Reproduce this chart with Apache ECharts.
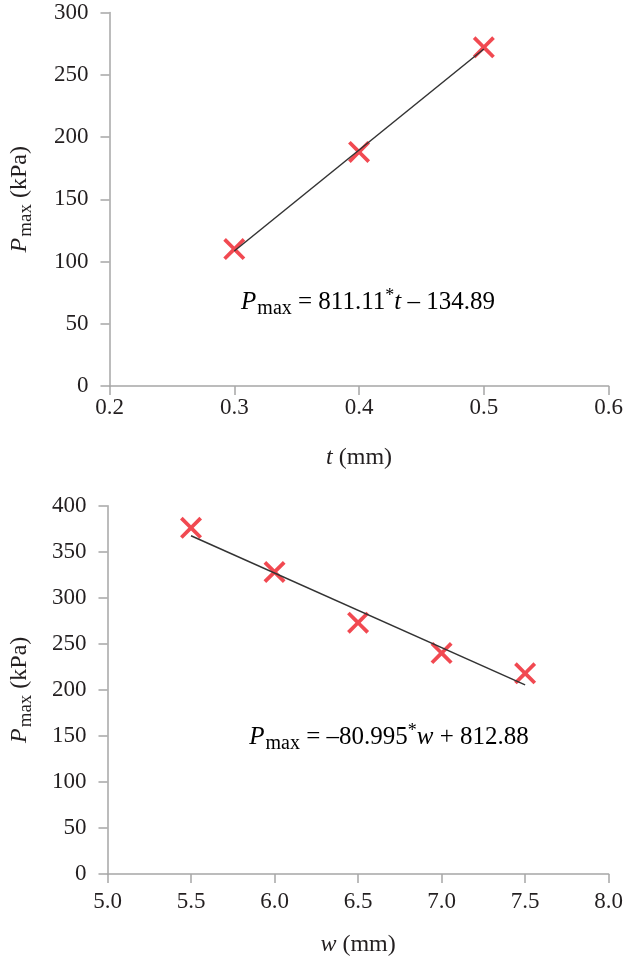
<!DOCTYPE html>
<html>
<head>
<meta charset="utf-8">
<script src="https://cdn.jsdelivr.net/npm/echarts@6/dist/echarts.min.js"></script>
<style>
html,body{margin:0;padding:0;background:#fff;}
#chart{width:626px;height:958px;}
</style>
</head>
<body>
<div id="chart"></div>
<script>
// ---- data ----
const tValues = [0.3, 0.4, 0.5];
const pmaxT = [110, 188, 272];
const tFitX = [0.3, 0.5];
const tFitY = [108.4, 270.7];
const tTicks = ['0.2', '0.3', '0.4', '0.5', '0.6'];

const wValues = [5.5, 6.0, 6.5, 7.0, 7.5];
const pmaxW = [376, 328, 273, 240, 218];
const wFitX = [5.5, 7.5];
const wFitY = [367.4, 205.4];
const wTicks = ['5.0', '5.5', '6.0', '6.5', '7.0', '7.5', '8.0'];

const eqTop = '{i|P}{sub|max}{n| = 811.11}{sup|*}{i|t}{n| \u2013 134.89}';
const eqBottom = '{i|P}{sub|max}{n| = \u201380.995}{sup|*}{i|w}{n| + 812.88}';

// ---- styling ----
const FONT = 'Liberation Serif';
const TXT = '#231f20';
const AXIS = '#a6a6a6';
const RED = '#ee1c25';
function rich(size, subSize, subPad) {
  return {
    n: {fontFamily: FONT, fontSize: size, color: TXT},
    i: {fontFamily: FONT, fontSize: size, fontStyle: 'italic', color: TXT},
    sub: {fontFamily: FONT, fontSize: subSize, color: TXT, padding: [subPad, 0, 0, 1]},
    sup: {fontFamily: FONT, fontSize: subSize - 2, color: TXT, padding: [0, 0, 11, 0]}
  };
}
const richAxis = rich(24, 19, 12);
const richEq = rich(25, 20, 13);
const crossPath = 'path://M0,12L12,0L50,38L88,0L100,12L62,50L100,88L88,100L50,62L12,100L0,88L38,50Z';

function xAxisCfg(gridIndex, min, max, interval, ticks, nameRich, gap, margin) {
  return {
    type: 'value', gridIndex, min, max, interval,
    name: nameRich, nameLocation: 'middle', nameGap: gap,
    nameTextStyle: {fontFamily: FONT, fontSize: 24, color: TXT, rich: richAxis},
    axisLine: {lineStyle: {color: AXIS, width: 1.5}},
    axisTick: {show: true, length: 9, lineStyle: {color: AXIS, width: 1.5}},
    axisLabel: {
      margin, fontFamily: FONT, fontSize: 23, color: TXT,
      formatter: function (v) { return ticks[Math.round((v - min) / interval)]; }
    },
    splitLine: {show: false}
  };
}
function yAxisCfg(gridIndex, max, gap) {
  return {
    type: 'value', gridIndex, min: 0, max, interval: 50,
    name: '{i|P}{sub|max}{n| (kPa)}', nameLocation: 'middle', nameRotate: 90, nameGap: gap,
    nameTextStyle: {fontFamily: FONT, fontSize: 24, color: TXT, rich: richAxis},
    axisLine: {show: true, lineStyle: {color: AXIS, width: 1.5}},
    axisTick: {show: true, length: 9, lineStyle: {color: AXIS, width: 1.5}},
    axisLabel: {margin: 21, fontFamily: FONT, fontSize: 23, color: TXT},
    splitLine: {show: false}
  };
}
function zip(a, b) { return a.map((v, k) => [v, b[k]]); }

const chart = echarts.init(document.getElementById('chart'), null, {renderer: 'canvas'});
chart.setOption({
  animation: false,
  backgroundColor: '#fff',
  grid: [
    {left: 105, top: 12.5, width: 506, height: 373.5},
    {left: 103, top: 505.7, width: 506, height: 369.3}
  ],
  xAxis: [
    xAxisCfg(0, 0.2, 0.6, 0.1, tTicks, '{i|t}{n| (mm)}', 60, 10),
    xAxisCfg(1, 5.0, 8.0, 0.5, wTicks, '{i|w}{n| (mm)}', 59, 16)
  ],
  yAxis: [
    yAxisCfg(0, 300, 74),
    yAxisCfg(1, 400, 72)
  ],
  series: [
    {type: 'scatter', xAxisIndex: 0, yAxisIndex: 0, data: zip(tValues, pmaxT),
     symbol: crossPath, symbolSize: 22, itemStyle: {color: RED}, z: 2},
    {type: 'line', xAxisIndex: 0, yAxisIndex: 0, data: zip(tFitX, tFitY),
     symbol: 'none', lineStyle: {color: '#333', width: 1.5}, z: 3},
    {type: 'scatter', xAxisIndex: 1, yAxisIndex: 1, data: zip(wValues, pmaxW),
     symbol: crossPath, symbolSize: 22, itemStyle: {color: RED}, z: 2},
    {type: 'line', xAxisIndex: 1, yAxisIndex: 1, data: zip(wFitX, wFitY),
     symbol: 'none', lineStyle: {color: '#333', width: 1.5}, z: 3}
  ],
  graphic: [
    {type: 'text', x: 368, y: 302, style: {text: eqTop, rich: richEq, align: 'center', verticalAlign: 'middle'}},
    {type: 'text', x: 389, y: 737, style: {text: eqBottom, rich: richEq, align: 'center', verticalAlign: 'middle'}}
  ]
});
</script>
</body>
</html>
